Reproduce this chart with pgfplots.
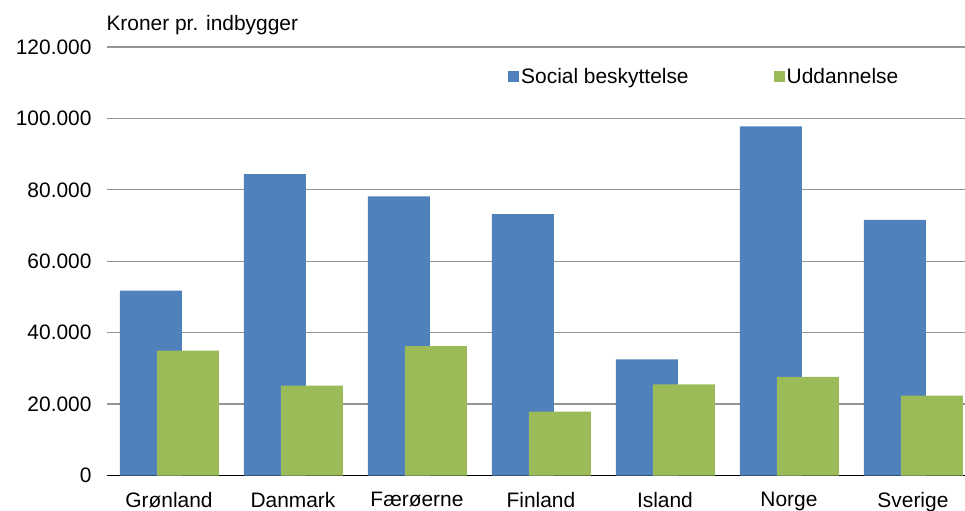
\documentclass[border=0pt]{standalone}
\usepackage{pgfplots}
\pgfplotsset{compat=1.18}
\usepackage{fontspec}
\setmainfont{Liberation Sans}
\definecolor{cblue}{HTML}{4F81BD}
\definecolor{cgreen}{HTML}{9BBB59}
\definecolor{cgrid}{HTML}{959595}
\begin{document}
\begin{tikzpicture}
\path[use as bounding box] (0,0) rectangle (965bp,511bp);
\begin{axis}[
  at={(107bp,35.5bp)}, anchor=south west,
  scale only axis, width=858bp, height=428.5bp,
  ymin=0, ymax=120000,
  xmin=-0.5, xmax=6.42,
  ytick={0,20000,...,120000},
  scaled y ticks=false,
  xtick={0,...,6},
  xticklabels={Grønland,Danmark,Færøerne,Finland,Island,Norge,Sverige},
  ymajorgrids, grid style={cgrid, line width=1.2bp},
  axis x line*=bottom,
  axis y line*=left,
  y axis line style={draw=none},
  x axis line style={black, line width=1.5bp, -},
  major tick length=0pt,
  tick label style={font=\fontsize{21}{25}\selectfont},
  yticklabel style={xshift=-12bp},
  xticklabel style={yshift=-13bp},
  /pgf/number format/.cd, fixed, precision=0, 1000 sep={.}, assume math mode=true,
  /pgfplots/.cd,
  ybar, bar width=62bp,
  clip=false,
  legend style={at={(0.4639,0.930)}, anchor=west, draw=none, fill=none,
    font=\fontsize{21}{25}\selectfont, legend columns=2,
    /tikz/every even column/.append style={column sep=83bp}},
  legend image code/.code={\fill[#1] (0bp,-5.5bp) rectangle (11bp,5.5bp);},
]
\addplot[fill=cblue, draw=none, bar shift=-18bp] coordinates {
  (0,51800) (1,84400) (2,78200) (3,73200) (4,32500) (5,97800) (6,71600)};
\addplot[fill=cgreen, draw=none, bar shift=19bp] coordinates {
  (0,35000) (1,25200) (2,36200) (3,17900) (4,25500) (5,27600) (6,22400)};
\legend{Social beskyttelse, Uddannelse}
\node[anchor=base west, font=\fontsize{21}{25}\selectfont] at (rel axis cs:0,1) [xshift=-4bp, yshift=16bp] {Kroner pr. indbygger};
\end{axis}
\end{tikzpicture}
\end{document}
